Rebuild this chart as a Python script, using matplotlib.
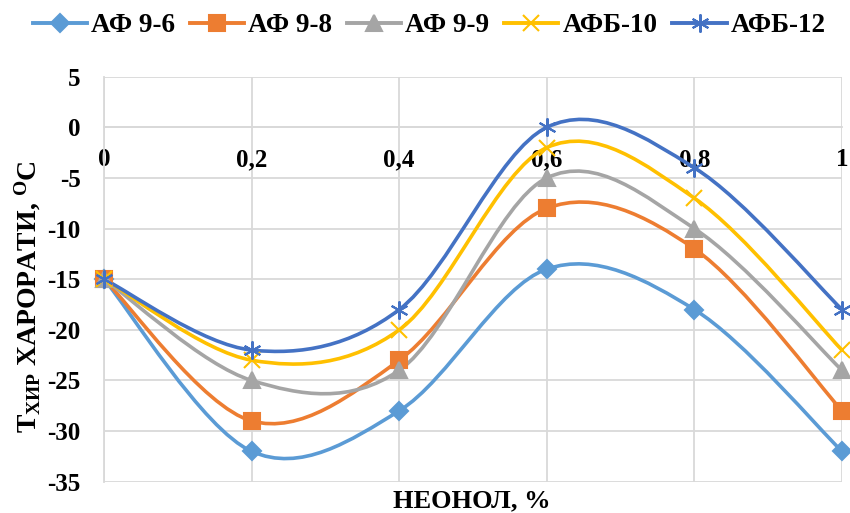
import matplotlib
matplotlib.use("Agg")
import matplotlib.pyplot as plt
from matplotlib.path import Path
from matplotlib.patches import PathPatch
from matplotlib.lines import Line2D
from matplotlib.ticker import FixedLocator, FuncFormatter

plt.rcParams['font.family'] = ['Liberation Serif', 'DejaVu Serif']
plt.rcParams['font.weight'] = 'bold'
plt.rcParams['axes.unicode_minus'] = False
plt.rcParams['mathtext.fontset'] = 'custom'
plt.rcParams['mathtext.rm'] = 'Liberation Serif:bold'
plt.rcParams['mathtext.it'] = 'Liberation Serif:bold'
plt.rcParams['mathtext.bf'] = 'Liberation Serif:bold'

# data
neonol = [0, 0.2, 0.4, 0.6, 0.8, 1.0]
series_names = ["АФ 9-6", "АФ 9-8", "АФ 9-9", "АФБ-10", "АФБ-12"]
af_9_6 = [-15, -32, -28, -14, -18, -32]
af_9_8 = [-15, -29, -23, -8, -12, -28]
af_9_9 = [-15, -25, -24, -5, -10, -24]
afb_10 = [-15, -23, -20, -2, -7, -22]
afb_12 = [-15, -22, -18, 0, -4, -18]
all_series = [af_9_6, af_9_8, af_9_9, afb_10, afb_12]

colors = ["#5B9BD5", "#ED7D31", "#A5A5A5", "#FFC000", "#4472C4"]
markers = ["D", "s", "^", "x", (6, 2, 0)]
msizes = [9, 12, 11, 11, 13]


def smooth_path(xs, ys):
    # Excel-like smoothed line: cubic bezier segments through the points
    pts = list(zip(xs, ys))
    verts = [pts[0]]
    codes = [Path.MOVETO]
    n = len(pts)
    for i in range(n - 1):
        p0 = pts[i - 1] if i > 0 else pts[i]
        p1 = pts[i]
        p2 = pts[i + 1]
        p3 = pts[i + 2] if i + 2 < n else pts[i + 1]
        c1 = (p1[0] + (p2[0] - p0[0]) / 6, p1[1] + (p2[1] - p0[1]) / 6)
        c2 = (p2[0] - (p3[0] - p1[0]) / 6, p2[1] - (p3[1] - p1[1]) / 6)
        verts += [c1, c2, p2]
        codes += [Path.CURVE4] * 3
    return Path(verts, codes)


fig = plt.figure(figsize=(8.5, 5.13), dpi=100)
ax = fig.add_axes([0.1224, 0.061, 0.8682, 0.7895])

grid_c = "#D9D9D9"
for name, ys, c, m, ms in zip(series_names, all_series, colors, markers, msizes):
    patch = PathPatch(smooth_path(neonol, ys), facecolor="none", edgecolor=c,
                      lw=2.6, zorder=3, capstyle="round", joinstyle="round")
    patch.set_clip_on(False)
    ax.add_patch(patch)
    ax.plot(neonol, ys, linestyle="none", marker=m, markersize=ms, color=c,
            markeredgecolor=c, markeredgewidth=1.5, zorder=4, clip_on=False)

ax.set_xlim(0, 1)
ax.set_ylim(-35, 5)
ax.yaxis.set_major_locator(FixedLocator(range(-35, 6, 5)))
ax.xaxis.set_major_locator(FixedLocator(neonol))
ax.xaxis.set_major_formatter(FuncFormatter(lambda v, p: ("%g" % round(v, 1)).replace(".", ",")))
ax.yaxis.set_major_formatter(FuncFormatter(lambda v, p: "%d" % v))
ax.grid(True, color=grid_c, lw=1.3)
ax.set_axisbelow(True)

for s in ["top", "right"]:
    ax.spines[s].set_visible(False)
ax.spines["left"].set_color(grid_c)
ax.spines["left"].set_linewidth(1.3)
ax.spines["bottom"].set_position(("data", 0))
ax.spines["bottom"].set_color(grid_c)
ax.spines["bottom"].set_linewidth(1.3)
ax.tick_params(axis="both", length=0, labelsize=18)
ax.tick_params(axis="x", pad=15)
ax.tick_params(axis="y", pad=17)
for lab in ax.get_xticklabels() + ax.get_yticklabels():
    lab.set_fontweight("bold")

fig.text(0.555, 0.023, "НЕОНОЛ, %", ha="center", va="center", fontsize=19, fontweight="bold")
fig.text(0.033, 0.421, r"T$_{\mathrm{ХИР}}$ ХАРОРАТИ, $^{\mathrm{O}}$C", rotation=90,
         ha="center", va="center", fontsize=20, fontweight="bold")

handles = [Line2D([0], [0], color=c, lw=2.8, marker=m, markersize=ms, markeredgewidth=1.5)
           for c, m, ms in zip(colors, markers, msizes)]
fig.legend(handles, series_names, loc="center", bbox_to_anchor=(0.505, 0.95), ncol=5,
           frameon=False, handlelength=2.0, handletextpad=0.15,
           columnspacing=0.55, prop={"weight": "bold", "size": 19.5})

fig.savefig("out.png", dpi=100)
